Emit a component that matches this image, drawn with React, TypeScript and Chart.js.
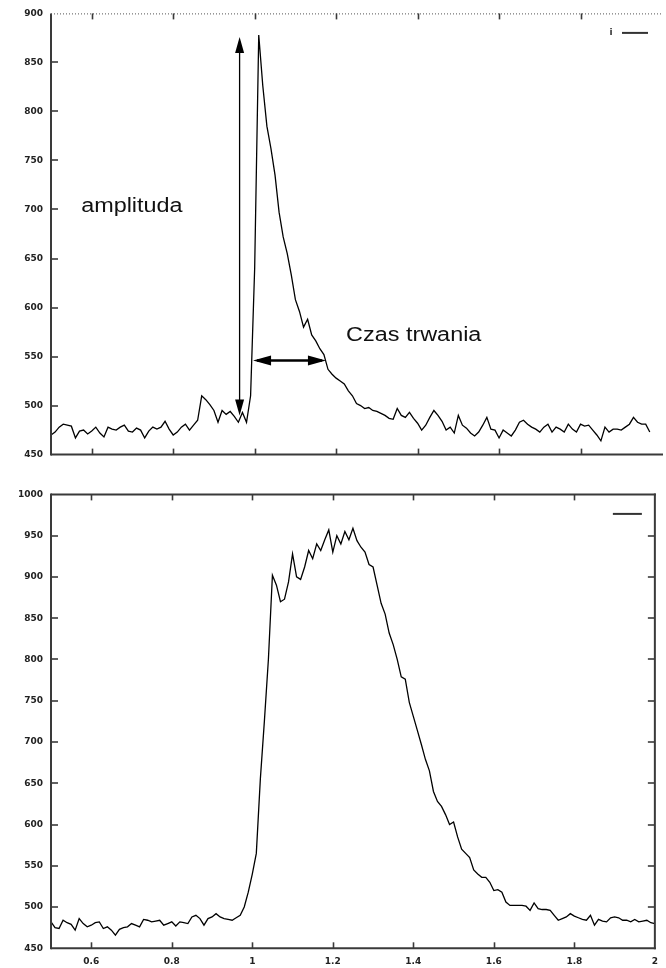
import React, { useEffect, useRef } from "react";
import { Chart, registerables } from "chart.js";

Chart.register(...registerables);

// ---------- data ----------
const X_START = 0.5;
const X_STEP = 0.01;
const X_MIN = 0.5;
const X_MAX = 2;
const X_TICKS = [0.6, 0.8, 1, 1.2, 1.4, 1.6, 1.8, 2];

const TOP_Y_MIN = 450;
const TOP_Y_MAX = 900;
const BOTTOM_Y_MIN = 450;
const BOTTOM_Y_MAX = 1000;
const Y_STEP = 50;

const TOP_LABEL = "i";
const BOTTOM_LABEL = "";

// top trace, x = 0.50 ... 1.97 (step 0.01)
const TOP_SERIES = [
  470, 473, 478, 481, 480, 479, 467, 474, 475, 471,
  474, 478, 472, 468, 478, 476, 475, 478, 480, 474,
  473, 477, 475, 467, 474, 478, 476, 478, 484, 476,
  470, 473, 478, 481, 475, 480, 485, 510, 506, 501,
  495, 483, 495, 491, 494, 489, 483, 493, 483, 510,
  640, 878, 826, 785, 762, 735, 697, 672, 655, 633,
  608, 596, 580, 588, 572, 566, 558, 552, 537, 532,
  528, 525, 522, 515, 510, 502, 500, 497, 498, 495,
  494, 492, 490, 487, 486, 497, 490, 488, 493, 487,
  482, 475, 480, 488, 495, 490, 484, 475, 478, 472,
  490, 480, 477, 472, 469, 473, 480, 488, 476, 475,
  467, 475, 472, 469, 475, 483, 485, 481, 478, 476,
  473, 478, 481, 473, 478, 476, 473, 481, 476, 473,
  481, 479, 480, 475, 470, 464, 478, 473, 476, 476,
  475, 478, 481, 488, 483, 481, 481, 473,
];

// bottom trace, x = 0.50 ... 2.00 (step 0.01)
const BOTTOM_SERIES = [
  482, 475, 474, 484, 481, 479, 472, 486, 480, 476,
  478, 481, 482, 474, 476, 472, 466, 473, 475, 476,
  480, 478, 476, 485, 484, 482, 483, 484, 478, 480,
  482, 477, 482, 481, 480, 488, 490, 486, 478, 486,
  488, 492, 488, 486, 485, 484, 487, 490, 500, 518,
  540, 565, 655, 725, 800, 902, 890, 870, 873, 894,
  928, 900, 897, 912, 932, 922, 940, 932, 945, 957,
  930, 950, 940, 955, 945, 959, 944, 936, 930, 915,
  912, 890, 868, 855, 832, 818, 800, 779, 776, 748,
  731, 714, 697, 679, 665, 640, 628, 622, 612, 600,
  603, 585, 570, 565, 560, 545, 540, 536, 536, 530,
  520, 521, 518, 506, 502, 502, 502, 502, 501, 496,
  505, 498, 497, 497, 496, 490, 484, 486, 488, 492,
  489, 487, 485, 484, 490, 478, 485, 483, 482, 487,
  488, 487, 484, 484, 482, 485, 482, 483, 484, 481, 480,
];

// annotations (data coordinates of the top panel)
const AMPLITUDE_ARROW = { x: 0.963, from: 490, to: 876 };
const DURATION_ARROW = { y: 546, from: 0.996, to: 1.175 };
const ANNOTATION_TEXTS = [
  { text: "amplituda", x: 0.574, y: 703 },
  { text: "Czas trwania", x: 1.2245, y: 571 },
];

// ---------- styling ----------
const FRAME = "#3a3a3a";
const INK = "#000000";
const TICK_FONT = { family: "'DejaVu Sans', sans-serif", size: 9, weight: "bold" as const };

function toPoints(series: number[]) {
  return series.map((y, i) => ({ x: +(X_START + i * X_STEP).toFixed(2), y }));
}

function line(ctx: CanvasRenderingContext2D, x1: number, y1: number, x2: number, y2: number) {
  ctx.beginPath();
  ctx.moveTo(x1, y1);
  ctx.lineTo(x2, y2);
  ctx.stroke();
}

function arrowHead(ctx: CanvasRenderingContext2D, tx: number, ty: number, dx: number, dy: number, len: number, half: number) {
  const bx = tx - dx * len;
  const by = ty - dy * len;
  const nx = -dy;
  const ny = dx;
  ctx.beginPath();
  ctx.moveTo(tx, ty);
  ctx.lineTo(bx + nx * half, by + ny * half);
  ctx.lineTo(bx - nx * half, by - ny * half);
  ctx.closePath();
  ctx.fill();
}

type PanelCfg = {
  dottedTop: boolean;
  rightBorder: boolean;
  legendText: string;
  legendDx: [number, number, number];
  annotate: boolean;
};

function framePlugin(cfg: PanelCfg) {
  return {
    id: "gnuframe",
    afterDraw(chart: any) {
      const ctx: CanvasRenderingContext2D = chart.ctx;
      const ca = chart.chartArea;
      const xs = chart.scales.x;
      const ys = chart.scales.y;
      ctx.save();
      ctx.strokeStyle = FRAME;
      ctx.fillStyle = FRAME;
      ctx.lineWidth = 2;
      line(ctx, ca.left, ca.top - (cfg.dottedTop ? 0 : 1), ca.left, ca.bottom + 1);
      line(ctx, ca.left, ca.bottom, ca.right + 1, ca.bottom);
      if (cfg.rightBorder) line(ctx, ca.right, ca.top - 1, ca.right, ca.bottom + 1);
      if (cfg.dottedTop) {
        ctx.save();
        ctx.lineWidth = 1;
        ctx.strokeStyle = "#555";
        ctx.setLineDash([1, 2]);
        line(ctx, ca.left, ca.top + 0.5, ca.right, ca.top + 0.5);
        ctx.restore();
      } else {
        line(ctx, ca.left, ca.top, ca.right + 1, ca.top);
      }
      // tick marks (inward)
      ctx.lineWidth = 1.6;
      ys.ticks.forEach((t: any) => {
        const py = Math.round(ys.getPixelForValue(t.value));
        if (py <= ca.top + 1 || py >= ca.bottom - 1) return;
        line(ctx, ca.left, py, ca.left + 7, py);
        if (cfg.rightBorder) line(ctx, ca.right, py, ca.right - 7, py);
      });
      X_TICKS.forEach((v) => {
        const px = Math.round(xs.getPixelForValue(v)) + 0.5;
        if (px >= ca.right - 1) return;
        line(ctx, px, ca.bottom, px, ca.bottom - 6);
        line(ctx, px, ca.top, px, ca.top + 6);
      });
      // key
      const ly = ca.top + 19.5;
      ctx.strokeStyle = "#333";
      ctx.lineWidth = 2;
      line(ctx, ca.right - cfg.legendDx[1], ly, ca.right - cfg.legendDx[2], ly);
      if (cfg.legendText) {
        ctx.fillStyle = "#333";
        ctx.font = `bold 9px 'DejaVu Sans', sans-serif`;
        ctx.textAlign = "center";
        ctx.textBaseline = "middle";
        ctx.fillText(cfg.legendText, ca.right - cfg.legendDx[0], ly);
      }
      if (cfg.annotate) {
        ctx.strokeStyle = INK;
        ctx.fillStyle = INK;
        const ax = xs.getPixelForValue(AMPLITUDE_ARROW.x);
        const ay1 = ys.getPixelForValue(AMPLITUDE_ARROW.to);
        const ay2 = ys.getPixelForValue(AMPLITUDE_ARROW.from);
        ctx.lineWidth = 1.3;
        line(ctx, ax, ay1 + 4, ax, ay2 - 4);
        arrowHead(ctx, ax, ay1, 0, -1, 16, 4.5);
        arrowHead(ctx, ax, ay2, 0, 1, 16, 4.5);
        const dy = ys.getPixelForValue(DURATION_ARROW.y);
        const dx1 = xs.getPixelForValue(DURATION_ARROW.from);
        const dx2 = xs.getPixelForValue(DURATION_ARROW.to);
        ctx.lineWidth = 2.6;
        line(ctx, dx1 + 4, dy, dx2 - 4, dy);
        arrowHead(ctx, dx1, dy, -1, 0, 18, 5);
        arrowHead(ctx, dx2, dy, 1, 0, 18, 5);
        ctx.fillStyle = "#111";
        ctx.font = `20px 'Liberation Sans', Arial, sans-serif`;
        ctx.textAlign = "left";
        ctx.textBaseline = "middle";
        ANNOTATION_TEXTS.forEach((a) => {
          const px = xs.getPixelForValue(a.x);
          const py = ys.getPixelForValue(a.y);
          ctx.save();
          ctx.translate(px, py);
          ctx.scale(1.17, 1);
          ctx.fillText(a.text, 0, 0);
          ctx.restore();
        });
      }
      ctx.restore();
    },
  };
}

function makeConfig(
  label: string,
  series: number[],
  yMin: number,
  yMax: number,
  showX: boolean,
  padding: { top: number; right: number; bottom: number; left: number },
  plugin: any
) {
  return {
    type: "line" as const,
    data: {
      datasets: [
        {
          label,
          data: toPoints(series),
          borderColor: INK,
          borderWidth: 1.3,
          pointRadius: 0,
          tension: 0,
          fill: false,
        },
      ],
    },
    options: {
      animation: false as const,
      responsive: false,
      maintainAspectRatio: false,
      layout: { padding },
      plugins: { legend: { display: false }, tooltip: { enabled: false } },
      scales: {
        x: {
          type: "linear" as const,
          min: X_MIN,
          max: X_MAX,
          display: showX,
          grid: { display: false, drawTicks: false },
          border: { display: false },
          afterBuildTicks: (s: any) => {
            s.ticks = X_TICKS.map((v) => ({ value: v }));
          },
          afterFit: (s: any) => {
            s.height = 19.7;
          },
          ticks: {
            padding: 8,
            color: "#222",
            font: TICK_FONT,
            maxRotation: 0,
            autoSkip: false,
            callback: (v: any) => String(v),
          },
        },
        y: {
          type: "linear" as const,
          min: yMin,
          max: yMax,
          grid: { display: false, drawTicks: false },
          border: { display: false },
          afterFit: (s: any) => {
            s.width = 51;
          },
          ticks: {
            stepSize: Y_STEP,
            padding: 8,
            color: "#222",
            font: TICK_FONT,
            callback: (v: any) => String(v),
          },
        },
      },
    },
    plugins: [plugin],
  };
}

function Panel(props: { cfg: any; width: number; height: number; top: number }) {
  const ref = useRef<HTMLCanvasElement | null>(null);
  useEffect(() => {
    if (!ref.current) return;
    const chart = new Chart(ref.current, props.cfg);
    return () => chart.destroy();
  }, []);
  return (
    <canvas
      ref={ref}
      width={props.width}
      height={props.height}
      style={{ position: "absolute", left: 0, top: props.top, width: props.width, height: props.height, display: "block" }}
    />
  );
}

export default function App() {
  const topCfg = makeConfig(
    TOP_LABEL,
    TOP_SERIES,
    TOP_Y_MIN,
    TOP_Y_MAX,
    false,
    { top: 12.5, right: 4, bottom: 5.7, left: 0 },
    framePlugin({ dottedTop: true, rightBorder: false, legendText: TOP_LABEL, legendDx: [51, 40, 14], annotate: true })
  );
  const bottomCfg = makeConfig(
    BOTTOM_LABEL,
    BOTTOM_SERIES,
    BOTTOM_Y_MIN,
    BOTTOM_Y_MAX,
    true,
    { top: 6.7, right: 4, bottom: 0, left: 0 },
    framePlugin({ dottedTop: false, rightBorder: true, legendText: BOTTOM_LABEL, legendDx: [51, 42, 13], annotate: false })
  );
  return (
    <div style={{ position: "absolute", left: 0, top: 0, width: 666, height: 968, background: "#fff", overflow: "hidden" }}>
      <Panel cfg={topCfg} width={666} height={480} top={0} />
      <Panel cfg={bottomCfg} width={666} height={487} top={481} />
    </div>
  );
}
